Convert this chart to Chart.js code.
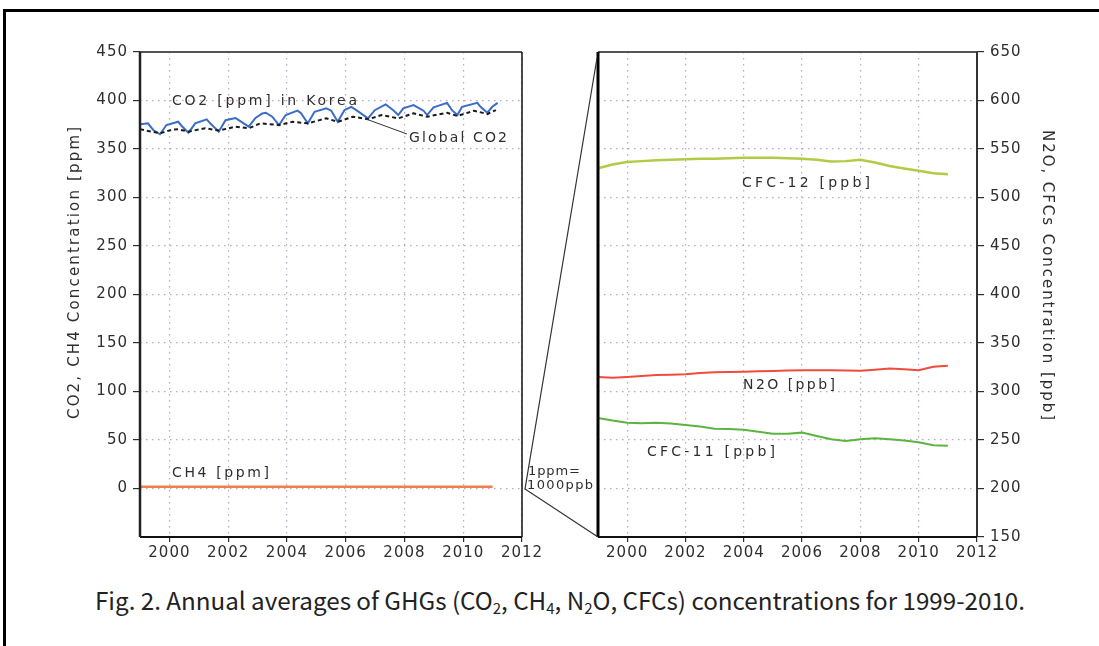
<!DOCTYPE html>
<html>
<head>
<meta charset="utf-8">
<script src="https://cdn.jsdelivr.net/npm/chart.js@4.4.1/dist/chart.umd.min.js"></script>
<style>
  body { margin: 0; background: #fff; width: 1099px; height: 646px; overflow: hidden; position: relative; }
  #leftChart { position: absolute; left: 0; top: 0; }
  #rightChart { position: absolute; left: 520px; top: 0; }
  .edgeTop { position: absolute; left: 4px; top: 9px; width: 1095px; height: 3px; background: #000; }
  .edgeLeft { position: absolute; left: 3px; top: 9px; width: 3px; height: 637px; background: #000; }
  #caption { position: absolute; left: 95px; top: 586px; white-space: nowrap; font-family: "Noto Sans CJK KR", "Noto Sans"; font-size: 24px; line-height: 28px; color: #222; transform-origin: 0 0; }
  #caption sub { font-size: 0.62em; vertical-align: -0.25em; line-height: 0; }
</style>
</head>
<body>
<div class="edgeTop"></div>
<div class="edgeLeft"></div>
<canvas id="leftChart" width="545" height="580"></canvas>
<canvas id="rightChart" width="579" height="580"></canvas>
<div id="caption">Fig. 2. Annual averages of GHGs (CO<sub>2</sub>, CH<sub>4</sub>, N<sub>2</sub>O, CFCs) concentrations for 1999-2010.</div>

<script>
// ticks
const xTicks = [2000, 2002, 2004, 2006, 2008, 2010, 2012];
const leftYTicks = [0, 50, 100, 150, 200, 250, 300, 350, 400, 450];
const rightYTicks = [150, 200, 250, 300, 350, 400, 450, 500, 550, 600, 650];

// CO2 in Korea (ppm)
const koreaYears = [1999.00, 1999.27, 1999.45, 1999.68, 1999.90, 2000.30, 2000.42, 2000.65, 2000.88,
  2001.27, 2001.39, 2001.68, 2001.91, 2002.25, 2002.36, 2002.70, 2002.93, 2003.16, 2003.28, 2003.50,
  2003.73, 2003.96, 2004.36, 2004.48, 2004.71, 2004.94, 2005.34, 2005.51, 2005.73, 2005.96, 2006.19,
  2006.36, 2006.76, 2006.99, 2007.36, 2007.62, 2007.79, 2007.96, 2008.31, 2008.65, 2008.77, 2008.99,
  2009.45, 2009.62, 2009.80, 2009.96, 2010.48, 2010.59, 2010.82, 2010.99, 2011.17];
const koreaCO2 = [375.4, 376.5, 369.6, 365.2, 374.7, 378.1, 373.7, 366.8, 376.5,
  380.6, 376.5, 367.9, 379.7, 382.0, 379.7, 373.0, 382.0, 386.7, 387.4, 383.3,
  374.7, 385.0, 389.5, 386.8, 376.5, 388.4, 391.9, 389.5, 378.1, 390.1, 393.5,
  390.0, 381.6, 390.0, 396.0, 390.0, 385.0, 391.9, 395.3, 389.5, 385.0, 392.9,
  397.6, 390.0, 385.0, 393.5, 397.6, 393.5, 387.4, 393.5, 397.6];

// Global CO2 (ppm)
const globalYears = [1999.00, 1999.68, 2000.10, 2000.30, 2000.65, 2001.22, 2001.68, 2002.25, 2002.70,
  2003.10, 2003.73, 2004.19, 2004.71, 2005.34, 2005.73, 2006.25, 2006.76, 2007.22, 2007.79, 2008.31,
  2008.77, 2009.45, 2009.80, 2010.37, 2010.82, 2011.11];
const globalCO2 = [370.3, 366.2, 370.0, 370.3, 367.9, 371.4, 369.0, 373.0, 371.4,
  376.5, 374.7, 378.0, 376.5, 381.6, 378.0, 383.3, 380.6, 385.0, 381.6, 386.8,
  383.3, 387.4, 384.0, 389.5, 386.0, 390.1];

// CH4 (ppm)
const ch4Years = [1999, 2000, 2001, 2002, 2003, 2004, 2005, 2006, 2007, 2008, 2009, 2010, 2011];
const ch4PPM = [1.86, 1.87, 1.87, 1.88, 1.88, 1.89, 1.89, 1.89, 1.90, 1.90, 1.91, 1.91, 1.92];

// N2O and CFCs (ppb), half-year readings
const halfYears = [1999, 1999.5, 2000, 2000.5, 2001, 2001.5, 2002, 2002.5, 2003, 2003.5, 2004, 2004.5,
  2005, 2005.5, 2006, 2006.5, 2007, 2007.5, 2008, 2008.5, 2009, 2009.5, 2010, 2010.5, 2011];
const cfc12 = [530, 534, 536.5, 537.5, 538.5, 539, 539.5, 540, 540, 540.5, 541, 541,
  541, 540.5, 540, 539, 537, 537.5, 539, 536, 532.5, 530, 527.5, 525, 524];
const n2o = [315.0, 314.3, 315.0, 316.0, 317.0, 317.3, 317.7, 319.0, 319.8, 320.0, 320.4, 320.8,
  321.1, 321.6, 322.0, 322.0, 321.8, 321.6, 321.4, 322.5, 323.8, 323.0, 322.0, 325.5, 326.6];
const cfc11 = [272.7, 270.0, 267.9, 267.2, 267.8, 266.9, 265.5, 263.8, 261.7, 261.3, 260.6, 258.6,
  256.5, 256.5, 257.6, 254.2, 250.7, 249.0, 250.7, 251.8, 250.7, 249.4, 247.7, 244.6, 244.2];

function toPoints(xs, ys) {
  return xs.map((x, i) => ({ x: x, y: ys[i] }));
}

const TEXT = '#2e2e2e';
const GRID = 'rgba(175,150,190,0.85)';
const FONT = '"DejaVu Sans"';

// draw text stretched to a given width (page coords)
function fitText(ctx, off, text, x, y, width, size, angle) {
  ctx.save();
  ctx.translate(x - off, y);
  if (angle) ctx.rotate(angle);
  ctx.font = size + 'px ' + FONT;
  ctx.letterSpacing = '0px';
  const w = ctx.measureText(text).width;
  ctx.letterSpacing = ((width - w) / (text.length - 1)) + 'px';
  ctx.fillStyle = TEXT;
  ctx.textBaseline = 'middle';
  ctx.textAlign = 'left';
  ctx.fillText(text, angle ? -width / 2 : 0, 0);
  ctx.restore();
}

function line(ctx, off, pts, color, width) {
  ctx.save();
  ctx.strokeStyle = color;
  ctx.lineWidth = width;
  ctx.beginPath();
  pts.forEach((p, i) => i ? ctx.lineTo(p[0] - off, p[1]) : ctx.moveTo(p[0] - off, p[1]));
  ctx.stroke();
  ctx.restore();
}

function frame(ctx, a, sides) {
  sides.forEach(s => {
    ctx.save();
    ctx.strokeStyle = s.c;
    ctx.lineWidth = s.w;
    ctx.beginPath();
    if (s.side === 'top') { ctx.moveTo(a.left, a.top); ctx.lineTo(a.right, a.top); }
    if (s.side === 'bottom') { ctx.moveTo(a.left, a.bottom); ctx.lineTo(a.right, a.bottom); }
    if (s.side === 'left') { ctx.moveTo(a.left, a.top); ctx.lineTo(a.left, a.bottom); }
    if (s.side === 'right') { ctx.moveTo(a.right, a.top); ctx.lineTo(a.right, a.bottom); }
    ctx.stroke();
    ctx.restore();
  });
}

const spacing = {
  id: 'spacing',
  beforeDraw(chart) { chart.ctx.letterSpacing = '1px'; }
};

function xScale() {
  return {
    type: 'linear', min: 1999, max: 2012,
    afterBuildTicks: s => { s.ticks = xTicks.map(v => ({ value: v })); },
    afterFit: s => { s.height = 43; s.paddingLeft = 0; s.paddingRight = 0; },
    grid: { color: GRID, lineWidth: 1.2, tickLength: 5, tickColor: TEXT, tickWidth: 1.2 },
    border: { display: false, dash: [1.5, 4.5] },
    ticks: { color: TEXT, padding: 2, font: { family: FONT, size: 15 }, maxRotation: 0, callback: v => String(v) }
  };
}

function lineSet(xs, ys, color, width, dash) {
  return {
    data: toPoints(xs, ys), borderColor: color, borderWidth: width, borderDash: dash || [],
    pointRadius: 0, fill: false, tension: 0
  };
}

const leftDecor = {
  id: 'leftDecor',
  afterDraw(chart) {
    const ctx = chart.ctx, a = chart.chartArea;
    frame(ctx, a, [
      { side: 'top', c: '#555', w: 2 },
      { side: 'right', c: '#111', w: 1.5 },
      { side: 'bottom', c: '#111', w: 2 },
      { side: 'left', c: '#222', w: 2.5 }
    ]);
    fitText(ctx, 0, 'CO2 [ppm] in Korea', 172, 101, 185, 14);
    fitText(ctx, 0, 'Global CO2', 409, 138, 98, 14);
    fitText(ctx, 0, 'CH4 [ppm]', 172, 473, 97, 14);
    line(ctx, 0, [[366, 119], [407, 134]], '#333', 1);
    fitText(ctx, 0, 'CO2, CH4 Concentration [ppm]', 75, 273, 292, 15, -Math.PI / 2);
  }
};

const rightDecor = {
  id: 'rightDecor',
  afterDraw(chart) {
    const ctx = chart.ctx, a = chart.chartArea, off = 520;
    frame(ctx, a, [
      { side: 'top', c: '#555', w: 2 },
      { side: 'right', c: '#333', w: 2 },
      { side: 'bottom', c: '#111', w: 2 },
      { side: 'left', c: '#000', w: 3 }
    ]);
    line(ctx, off, [[597, 58], [525, 489], [598, 537]], '#333', 1.2);
    fitText(ctx, off, '1ppm=', 528, 472, 52, 13);
    fitText(ctx, off, '1000ppb', 527, 486, 66, 13);
    fitText(ctx, off, 'CFC-12 [ppb]', 742, 183, 128, 14);
    fitText(ctx, off, 'N2O [ppb]', 743, 385, 92, 14);
    fitText(ctx, off, 'CFC-11 [ppb]', 647, 452, 128, 14);
    fitText(ctx, off, 'N2O, CFCs Concentration [ppb]', 1047, 275, 290, 15, Math.PI / 2);
  }
};

new Chart(document.getElementById('leftChart'), {
  type: 'line',
  data: {
    datasets: [
      lineSet(ch4Years, ch4PPM, '#f0804a', 2.5),
      lineSet(globalYears, globalCO2, '#1a1a1a', 2, [4, 3]),
      lineSet(koreaYears, koreaCO2, '#3a6cc8', 2)
    ]
  },
  options: {
    responsive: false, animation: false, devicePixelRatio: 1,
    layout: { padding: { left: 0, top: 52, right: 23, bottom: 0 } },
    plugins: { legend: { display: false }, tooltip: { enabled: false }, title: { display: false } },
    scales: {
      x: xScale(),
      y: {
        type: 'linear', min: -50, max: 450,
        afterBuildTicks: s => { s.ticks = leftYTicks.map(v => ({ value: v })); },
        afterFit: s => { s.width = 140; },
        grid: { color: GRID, lineWidth: 1.2, tickLength: 7, tickColor: TEXT, tickWidth: 1.2 },
        border: { display: false, dash: [1.5, 4.5] },
        ticks: { color: TEXT, padding: 5, font: { family: FONT, size: 15 } }
      }
    }
  },
  plugins: [spacing, leftDecor]
});

new Chart(document.getElementById('rightChart'), {
  type: 'line',
  data: {
    datasets: [
      lineSet(halfYears, cfc12, '#b0cc44', 2.5),
      lineSet(halfYears, n2o, '#f04c3c', 2),
      lineSet(halfYears, cfc11, '#5cb440', 2)
    ]
  },
  options: {
    responsive: false, animation: false, devicePixelRatio: 1,
    layout: { padding: { left: 78, top: 52, right: 0, bottom: 0 } },
    plugins: { legend: { display: false }, tooltip: { enabled: false }, title: { display: false } },
    scales: {
      x: xScale(),
      y: {
        type: 'linear', position: 'right', min: 150, max: 650,
        afterBuildTicks: s => { s.ticks = rightYTicks.map(v => ({ value: v })); },
        afterFit: s => { s.width = 122; },
        grid: { color: GRID, lineWidth: 1.2, tickLength: 7, tickColor: TEXT, tickWidth: 1.2 },
        border: { display: false, dash: [1.5, 4.5] },
        ticks: { color: TEXT, padding: 6, font: { family: FONT, size: 15 } }
      }
    }
  },
  plugins: [spacing, rightDecor]
});

// stretch caption to the width it has in the figure
const cap = document.getElementById('caption');
const capW = cap.getBoundingClientRect().width;
cap.style.transform = 'scaleX(' + (930 / capW) + ')';
</script>
</body>
</html>
